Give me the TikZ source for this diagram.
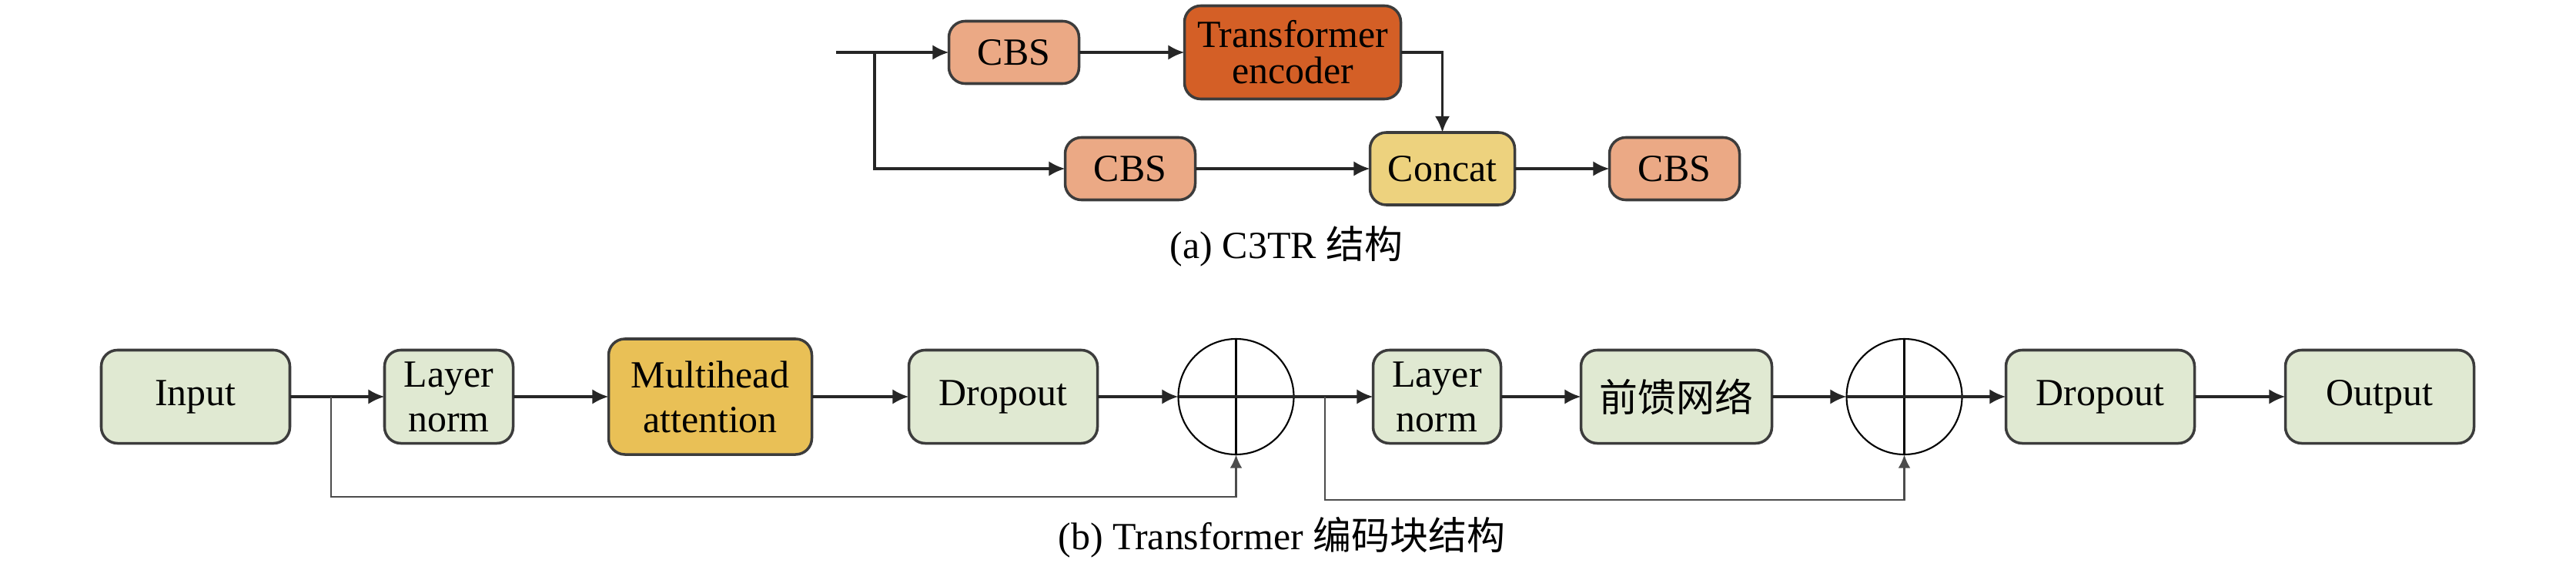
\documentclass[tikz,border=0pt]{standalone}
\usepackage{fontspec}
\setmainfont{Liberation Serif}
\newfontfamily\cjk{Noto Sans CJK SC}
\usetikzlibrary{arrows.meta,positioning,calc}

\definecolor{cbsfill}{RGB}{235,169,133}
\definecolor{encfill}{RGB}{212,95,38}
\definecolor{concatfill}{RGB}{237,210,126}
\definecolor{greenfill}{RGB}{224,233,210}
\definecolor{attnfill}{RGB}{233,192,86}
\definecolor{edgegray}{RGB}{60,60,60}

\begin{document}
\begin{tikzpicture}[
    cbsblock/.style={
        rectangle,
        draw=edgegray,
        line width=1pt,
        fill=cbsfill,
        rounded corners=6pt,
        inner sep=0pt,
        outer sep=0pt,
        minimum width=1.69cm,
        minimum height=0.81cm,
        align=center,
        font=\fontsize{14.2}{16.5}\selectfont
    },
    encblock/.style={
        cbsblock,
        fill=encfill,
        minimum width=2.81cm,
        minimum height=1.21cm,
        font=\fontsize{14.2}{13.4}\selectfont
    },
    concatblock/.style={
        cbsblock,
        fill=concatfill,
        minimum width=1.88cm,
        minimum height=0.94cm
    },
    greenblock/.style={
        cbsblock,
        fill=greenfill,
        minimum width=2.45cm,
        minimum height=1.21cm
    },
    normblock/.style={
        greenblock,
        minimum width=1.67cm
    },
    attnblock/.style={
        greenblock,
        fill=attnfill,
        minimum width=2.64cm,
        minimum height=1.50cm
    },
    addcircle/.style={
        circle,
        draw=black,
        line width=0.6pt,
        inner sep=0pt,
        outer sep=0pt,
        minimum size=1.5cm
    },
    caption/.style={font=\fontsize{14.2}{16.5}\selectfont},
    line/.style={draw=black!85, line width=1pt, -{Latex[length=6pt,width=5.5pt]}},
    skip line/.style={draw=black!70, line width=0.8pt, -{Latex[length=5pt,width=4.5pt]}}
]

\useasboundingbox (0,0) rectangle (33.46,-7.39);

% (a) C3TR
\coordinate (ain) at (10.86,-0.68);
\coordinate (asplit) at (11.36,-0.68);
\node [cbsblock] (cbs1) at (13.17,-0.68) {CBS};
\node [encblock, right=1.37cm of cbs1] (enc) {Transformer\\encoder};
\node [cbsblock] (cbs2) at (14.68,-2.19) {CBS};
\node [concatblock, right=2.27cm of cbs2] (concat) {Concat};
\node [cbsblock, right=1.23cm of concat] (cbs3) {CBS};
\node [caption] (capa) at (16.71,-3.20) {(a) C3TR {\cjk 结构}};

% (b) Transformer encoder block
\node [greenblock] (input) at (2.54,-5.15) {Input};
\node [normblock, right=1.23cm of input] (ln1) {Layer\\norm};
\node [attnblock, right=1.24cm of ln1] (mha) {Multihead\\attention};
\node [greenblock, right=1.26cm of mha] (drop1) {Dropout};
\node [addcircle, right=1.05cm of drop1] (add1) {};
\node [normblock, minimum width=1.66cm, right=1.03cm of add1] (ln2) {Layer\\norm};
\node [greenblock, minimum width=2.48cm, right=1.04cm of ln2] (ffn) {\cjk 前馈网络};
\node [addcircle, right=0.97cm of ffn] (add2) {};
\node [greenblock, right=0.57cm of add2] (drop2) {Dropout};
\node [greenblock, right=1.18cm of drop2] (out) {Output};
\node [caption] (capb) at (16.65,-6.98) {(b) Transformer {\cjk 编码块结构}};

\coordinate (bsplit1) at (4.30,-5.15);
\coordinate (blow1) at (4.30,-6.45);
\coordinate (bsplit2) at (17.21,-5.15);
\coordinate (blow2) at (17.21,-6.49);

% Crosses in the add circles
\foreach \c in {add1,add2} {
    \draw [line width=0.6pt] (\c.north) -- (\c.south);
    \draw [line width=1pt, draw=black!85] (\c.west) -- (\c.east);
}

% Connections (a)
\draw [line] (ain) -- (cbs1);
\draw [line] (cbs1) -- (enc);
\draw [line] (enc.east) -| (concat.north);
\draw [line] (asplit) |- (cbs2.west);
\draw [line] (cbs2) -- (concat);
\draw [line] (concat) -- (cbs3);

% Connections (b)
\draw [line] (input) -- (ln1);
\draw [line] (ln1) -- (mha);
\draw [line] (mha) -- (drop1);
\draw [line] (drop1) -- (add1);
\draw [line] (add1) -- (ln2);
\draw [line] (ln2) -- (ffn);
\draw [line] (ffn) -- (add2);
\draw [line] (add2) -- (drop2);
\draw [line] (drop2) -- (out);
\draw [skip line] (bsplit1) -- (blow1) -| (add1.south);
\draw [skip line] (bsplit2) -- (blow2) -| (add2.south);

\end{tikzpicture}
\end{document}
